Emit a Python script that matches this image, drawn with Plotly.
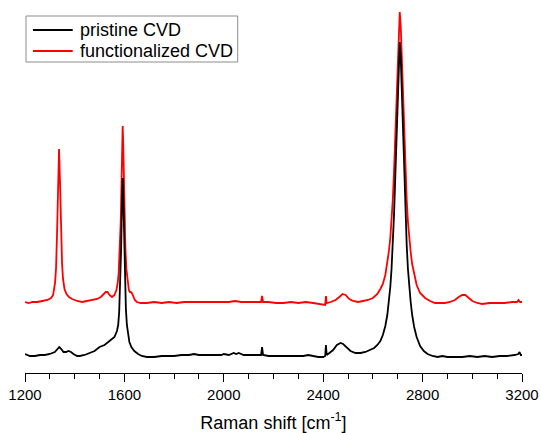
import plotly.graph_objects as go

# Raman spectra of CVD graphene before and after functionalization (a.u., baseline ~0)
pristine_shift = [
    1200, 1210, 1220, 1240, 1260, 1280, 1300, 1320, 1330, 1338, 1346, 1355, 1365, 1375,
    1385, 1395, 1410, 1420, 1440, 1460, 1480, 1500, 1520, 1535, 1550, 1560, 1570, 1575,
    1579, 1583, 1587, 1590, 1593, 1596, 1599, 1602, 1606, 1610, 1615, 1620, 1628, 1640,
    1655, 1670, 1690, 1720, 1750, 1780, 1800, 1830, 1860, 1880, 1900, 1930, 1960, 1990,
    2000, 2020, 2040, 2050, 2060, 2080, 2100, 2130, 2150, 2154, 2158, 2180, 2200, 2230,
    2260, 2300, 2320, 2340, 2360, 2380, 2400, 2408, 2411, 2414, 2425, 2440, 2455, 2470,
    2480, 2495, 2510, 2530, 2550, 2570, 2590, 2605, 2618, 2630, 2640, 2650, 2658, 2664,
    2670, 2675, 2680, 2685, 2690, 2695, 2700, 2704, 2708, 2712, 2716, 2721, 2726, 2731,
    2736, 2741, 2746, 2752, 2758, 2766, 2776, 2790, 2805, 2820, 2840, 2860, 2880, 2900,
    2930, 2960, 2990, 3020, 3050, 3080, 3110, 3140, 3170, 3185, 3190, 3195, 3200,
]
pristine_int = [
    3, 2, 1, 1, 2, 2, 3, 5, 8, 10, 8, 5, 5, 6,
    5, 3, 1, 1, 2, 4, 6, 10, 12, 15, 18, 20, 26, 32,
    45, 70, 110, 150, 179, 155, 112, 76, 48, 32, 21, 15, 10, 6,
    3, 1, 0, 0, 1, 1, 1, 2, 2, 3, 2, 2, 2, 2,
    3, 2, 4, 3, 4, 2, 2, 2, 2, 10, 2, 1, 1, 1,
    1, 1, 1, 2, 1, 0, 0, 1, 12, 2, 4, 7, 12, 14,
    13, 9, 6, 4, 4, 5, 7, 9, 12, 16, 22, 31, 42, 55,
    70, 88, 112, 142, 180, 225, 268, 300, 315, 300, 268, 225, 180, 142,
    112, 88, 70, 55, 42, 30, 20, 11, 6, 3, 1, 0, 1, 0,
    0, 0, 1, 0, 1, 0, 1, 1, 2, 3, 5, 2, 2,
]

functionalized_shift = [
    1200, 1215, 1230, 1250, 1270, 1290, 1305, 1313, 1321, 1325, 1329, 1333, 1337, 1341,
    1345, 1349, 1353, 1359, 1367, 1377, 1390, 1410, 1430, 1450, 1470, 1490, 1505, 1515,
    1525, 1532, 1540, 1550, 1560, 1568, 1573, 1577, 1581, 1585, 1588, 1591, 1593, 1595,
    1598, 1601, 1604, 1608, 1613, 1618, 1622, 1626, 1630, 1635, 1642, 1650, 1665, 1690,
    1720, 1750, 1780, 1810, 1840, 1870, 1900, 1930, 1960, 1990, 2020, 2045, 2070, 2100,
    2130, 2150, 2154, 2158, 2180, 2210, 2240, 2270, 2300, 2330, 2360, 2380, 2400, 2408,
    2411, 2414, 2430, 2450, 2465, 2478, 2490, 2505, 2520, 2540, 2560, 2580, 2600, 2618,
    2630, 2640, 2650, 2658, 2664, 2670, 2675, 2680, 2685, 2690, 2695, 2700, 2704, 2708,
    2712, 2716, 2721, 2726, 2731, 2736, 2741, 2746, 2752, 2758, 2766, 2776, 2790, 2810,
    2830, 2850, 2870, 2890, 2910, 2930, 2945, 2960, 2972, 2985, 3000, 3020, 3040, 3070,
    3100, 3130, 3160, 3180, 3186, 3192, 3200,
]
functionalized_int = [
    1, 0, 1, 1, 2, 3, 5, 8, 20, 35, 70, 120, 154, 120,
    70, 40, 24, 14, 9, 6, 4, 2, 1, 2, 3, 4, 6, 9,
    11, 11, 8, 6, 8, 13, 20, 30, 50, 80, 115, 155, 177, 162,
    120, 82, 55, 34, 20, 13, 11, 11, 10, 7, 3, 1, 0, 0,
    1, 0, 1, 0, 1, 1, 1, 1, 1, 1, 1, 2, 1, 1,
    1, 1, 7, 1, 1, 0, 0, 1, 0, 1, 0, -1, -2, -2,
    7, 0, 1, 3, 6, 9, 8, 4, 2, 1, 2, 3, 5, 9,
    14, 19, 28, 39, 51, 65, 81, 103, 131, 166, 208, 248, 277, 291,
    277, 248, 208, 166, 131, 103, 81, 65, 51, 39, 28, 18, 10, 5,
    2, 0, 0, 0, 1, 3, 6, 8, 8, 5, 2, 0, -1, 0,
    0, 0, 1, 1, 3, 1, 1,
]

# vertical offset used to stack the functionalized spectrum above the pristine one
stack_offset = 54

tick_values = [1200, 1600, 2000, 2400, 2800, 3200]

series_names = ["pristine CVD", "functionalized CVD"]
series_colors = ["#000000", "#ff0000"]

fig = go.Figure()
fig.add_trace(go.Scatter(
    x=functionalized_shift,
    y=[v + stack_offset for v in functionalized_int],
    mode="lines",
    name=series_names[1],
    line=dict(color=series_colors[1], width=1.8),
))
fig.add_trace(go.Scatter(
    x=pristine_shift,
    y=pristine_int,
    mode="lines",
    name=series_names[0],
    line=dict(color=series_colors[0], width=1.8),
))

# Compact boxed legend in the upper-left corner (paper coordinates)
W_PLOT, H_PLOT, LEFT, BOTTOM = 500.0, 371.0, 25.0, 373.0


def px_x(p):
    return (p - LEFT) / W_PLOT


def px_y(p):
    return (BOTTOM - p) / H_PLOT


shapes = [dict(type="rect", xref="paper", yref="paper",
               x0=px_x(26), x1=px_x(239), y0=px_y(62), y1=px_y(16),
               line=dict(color="#8c8c8c", width=1), fillcolor="white", layer="above")]
annotations = []
for i, (name, col) in enumerate(zip(series_names, series_colors)):
    yy = px_y(30 + 21 * i)
    shapes.append(dict(type="line", xref="paper", yref="paper",
                       x0=px_x(33), x1=px_x(73), y0=yy, y1=yy,
                       line=dict(color=col, width=2), layer="above"))
    annotations.append(dict(xref="paper", yref="paper", x=px_x(78), y=yy,
                            text=name, showarrow=False, xanchor="left", yanchor="middle",
                            font=dict(size=18, color="#000000")))

fig.update_layout(
    width=541,
    height=433,
    margin=dict(l=25, r=16, t=2, b=60),
    paper_bgcolor="white",
    plot_bgcolor="white",
    font=dict(family="Liberation Sans, Arial, sans-serif", color="#000000"),
    showlegend=False,
    shapes=shapes,
    annotations=annotations,
    xaxis=dict(
        range=[1200, 3200],
        tickvals=tick_values,
        ticktext=[str(t) for t in tick_values],
        ticklabeloverflow="allow",
        showgrid=False,
        zeroline=False,
        showline=True,
        linecolor="#000000",
        linewidth=1.2,
        ticks="outside",
        ticklen=8,
        tickwidth=1.2,
        tickcolor="#000000",
        tickfont=dict(size=15),
        minor=dict(dtick=100, ticks="outside", ticklen=5, tickwidth=1.2,
                   tickcolor="#000000", showgrid=False),
        title=dict(text="Raman shift [cm<sup>-1</sup>]", font=dict(size=18), standoff=14),
    ),
    yaxis=dict(
        range=[-16, 355],
        visible=False,
        showgrid=False,
        zeroline=False,
    ),
)

fig.write_html("out.html")
